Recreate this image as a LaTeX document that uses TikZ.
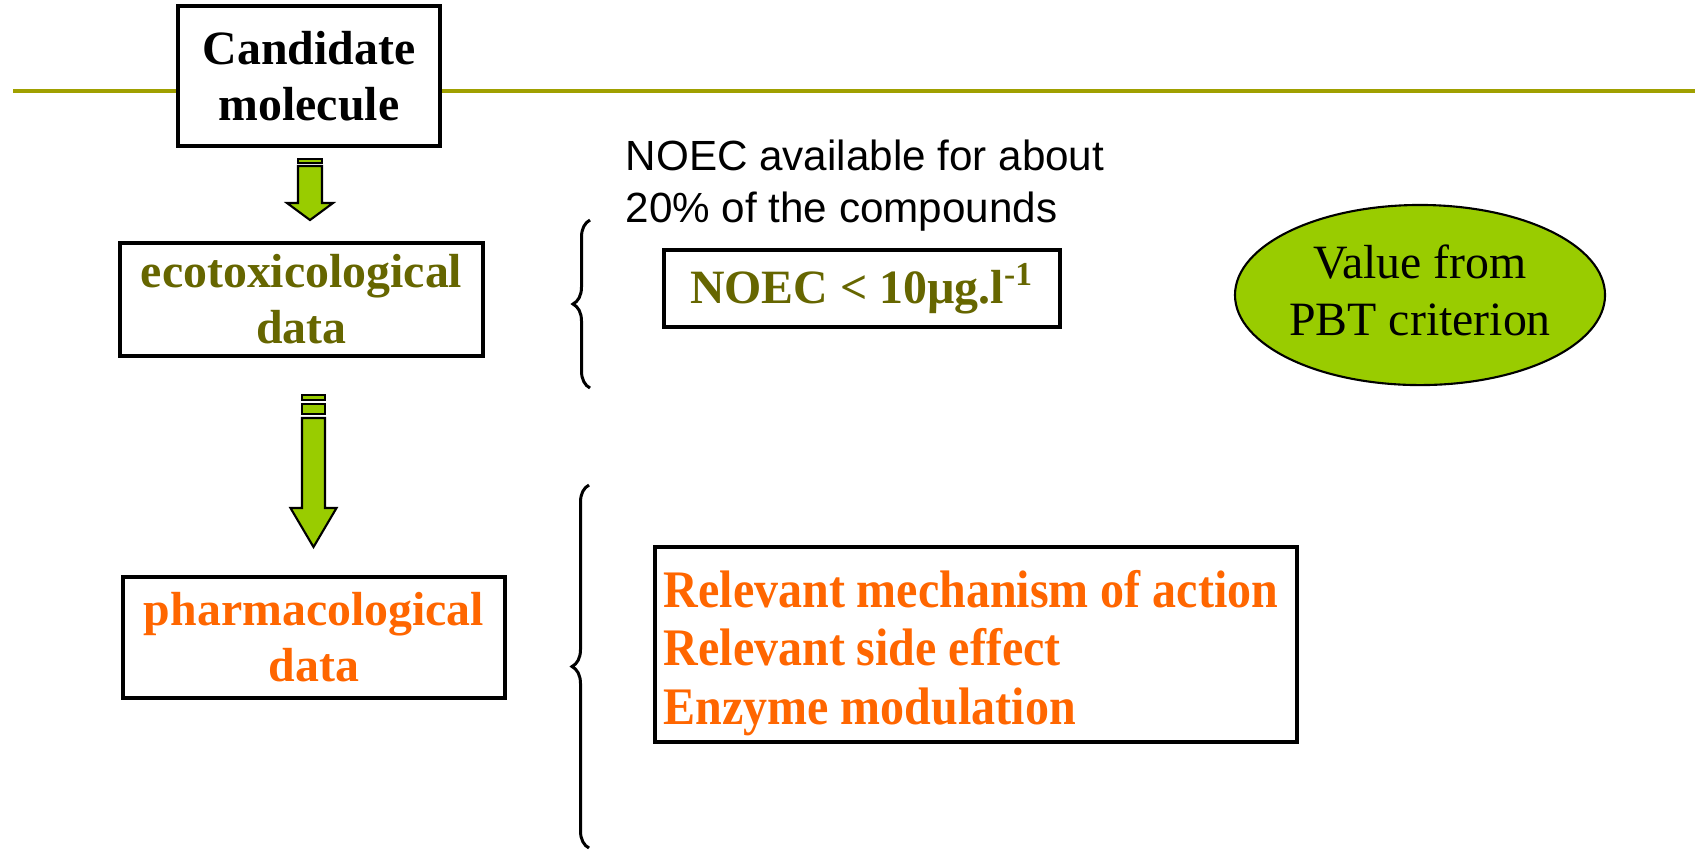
\documentclass[tikz,border=0pt]{standalone}
\usepackage{fontspec}
\setmainfont{Liberation Serif}
\newfontfamily\arialfont{Liberation Sans}
\newfontfamily\narrowserif[FakeStretch=0.91]{Liberation Serif}
\usepackage{tikz}
\usetikzlibrary{calc}
\usetikzlibrary{shapes.geometric}
\usetikzlibrary{decorations.pathreplacing}

\definecolor{olivetext}{RGB}{102,102,0}
\definecolor{orangetext}{RGB}{255,102,0}
\definecolor{limefill}{RGB}{153,204,0}
\definecolor{ruleline}{RGB}{160,160,0}

\tikzset{
	databox/.style={draw, line width=1.15pt, fill=white, inner sep=0pt, align=center,
		font=\fontsize{13.6}{15.9}\selectfont\bfseries},
	blockarrow/.style={draw, line width=0.6pt, fill=limefill, line join=miter},
	curly/.style={decorate, decoration={brace, amplitude=0.17cm}, line width=0.85pt},
}

\begin{document}
\begin{tikzpicture}[x=0.01cm, y=-0.01cm]

						\useasboundingbox (0, 0) rectangle (1695, 850);

						\coordinate(t1) at (310, 159);
						\coordinate(h1) at (310, 220);
						\coordinate(t2) at (313.5, 395);
						\coordinate(h2) at (313.5, 547);

						\draw[ruleline, line width=1.15pt] (13, 91)--(1695, 91);

						\node[databox, minimum width=2.62cm, minimum height=1.40cm] (cand) at (309, 76) {Candidate\\molecule};
						\node[databox, text=olivetext, minimum width=3.63cm, minimum height=1.13cm] (eco) at (301.5, 299.5) {ecotoxicological\\data};
						\node[databox, text=orangetext, minimum width=3.82cm, minimum height=1.21cm] (pharma) at (314, 637.5) {pharmacological\\data};

						\node[databox, text=olivetext, minimum width=3.96cm, minimum height=0.77cm] (noec) at (862, 288.5) {NOEC < 10µg.l\textsuperscript{-1}};
						\node[databox, text=orangetext, minimum width=6.41cm, minimum height=1.95cm] (mech) at (976, 644.5) {};
						\node[anchor=west, align=left, inner sep=0pt, text=orangetext,
							font=\narrowserif\fontsize{15}{16.6}\selectfont\bfseries] (mechtext) at (663, 653) {Relevant mechanism of action\\Relevant side effect\\Enzyme modulation};

						\node[anchor=west, align=left, inner sep=0pt, font=\arialfont\fontsize{12}{14.8}\selectfont] (avail) at (625, 186) {NOEC available for about\\20\% of the compounds};

						\node[ellipse, draw, line width=0.6pt, fill=limefill, inner sep=0pt, align=center, minimum width=3.64cm, minimum height=1.80cm,
							font=\fontsize{13.6}{16.4}\selectfont] (pbt) at (1420, 295) {Value from\\PBT criterion\rule[-0.1cm]{0pt}{0pt}};

						\draw[curly] (590, 388)--(590, 220);
						\draw[curly] (589, 848)--(589, 485);

						\draw[blockarrow] ($(t1)+(-12, 0)$) rectangle ($(t1)+(12, 4)$);
						\draw[blockarrow] ($(t1)+(-12, 7)$)--($(t1)+(12, 7)$)--($(h1)+(12, -17)$)--($(h1)+(23, -17)$)--(h1)--($(h1)+(-23, -17)$)--($(h1)+(-12, -17)$)--cycle;

						\draw[blockarrow] ($(t2)+(-11.5, 0)$) rectangle ($(t2)+(11.5, 5)$);
						\draw[blockarrow] ($(t2)+(-11.5, 9)$) rectangle ($(t2)+(11.5, 19)$);
						\draw[blockarrow] ($(t2)+(-11.5, 23)$)--($(t2)+(11.5, 23)$)--($(h2)+(11.5, -39)$)--($(h2)+(23, -39)$)--(h2)--($(h2)+(-23, -39)$)--($(h2)+(-11.5, -39)$)--cycle;
					\end{tikzpicture}
\end{document}
